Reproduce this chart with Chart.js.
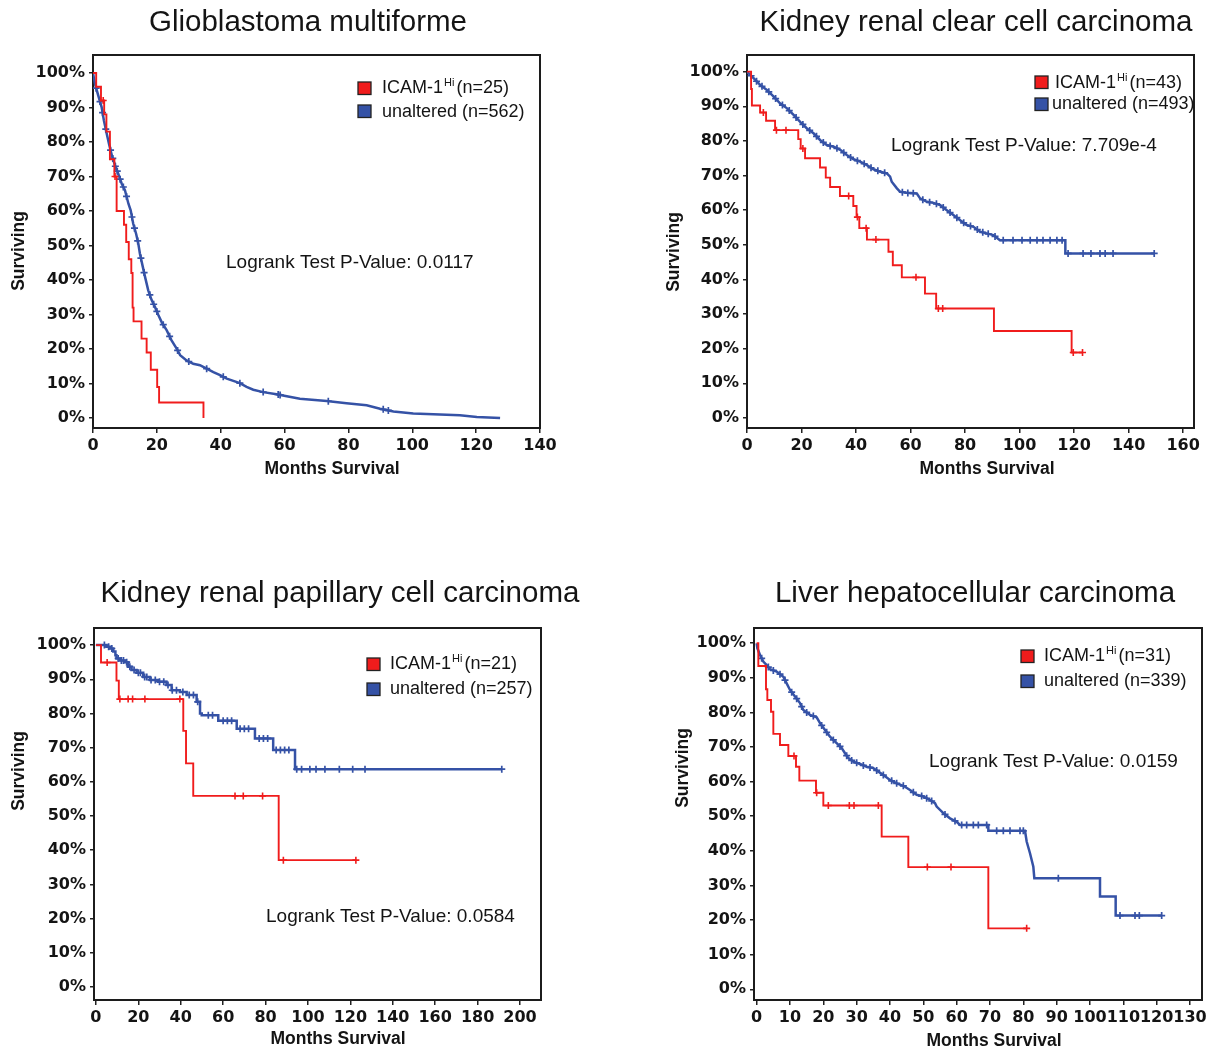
<!DOCTYPE html>
<html>
<head>
<meta charset="utf-8">
<title>ICAM-1 survival curves</title>
<script src="https://cdn.jsdelivr.net/npm/chart.js@4.4.1/dist/chart.umd.min.js"></script>
<style>
  body { margin: 0; background: #fff; }
  #wrap { position: relative; width: 1220px; height: 1051px; }
  #wrap canvas { position: absolute; }
</style>
</head>
<body>
<div id="wrap">
  <canvas id="c1" width="610" height="525" style="left:0;top:0"></canvas>
  <canvas id="c2" width="610" height="525" style="left:610px;top:0"></canvas>
  <canvas id="c3" width="610" height="526" style="left:0;top:525px"></canvas>
  <canvas id="c4" width="610" height="526" style="left:610px;top:525px"></canvas>
</div>
<script>
// shared labels
const yTicks = [0, 10, 20, 30, 40, 50, 60, 70, 80, 90, 100];
const seriesNames = ['ICAM-1', 'unaltered'];

// Glioblastoma multiforme
const gbmCounts = [25, 562];
const gbmXTicks = [0, 20, 40, 60, 80, 100, 120, 140];
const gbmRedT = [0, 1.0, 2.5, 3.5, 4.2, 5.3, 6.7, 7.4, 9.7, 10.4, 11.2, 12.0, 12.4, 12.7, 15.2, 16.8, 18.1, 20.1, 20.7, 34.6];
const gbmRedS = [100, 96, 92, 88, 83, 75, 70, 60, 56, 51, 46, 42, 32, 28, 23, 19, 14, 9, 4.5, 0];
const gbmRedCens = [3.2, 6.9];
const gbmBlueT = [0, 0.6, 1.7, 2.7, 3.4, 4.3, 5.0, 5.9, 6.9, 7.9, 9.0, 10.0, 11.1, 11.8, 12.6, 13.5, 14.2, 14.7, 15.6, 16.3, 17.3, 18.4, 19.4, 20.5, 21.5, 23.1, 24.6, 26.2, 27.3, 29.3, 31.4, 33.5, 35.6, 37.7, 39.8, 41.9, 46.0, 48.1, 50.2, 53.3, 57.5, 60.7, 64.8, 73.2, 79.4, 85.7, 89.9, 94.1, 100.3, 114.9, 120.2, 127.5];
const gbmBlueS = [100, 96.9, 93.3, 90.1, 86.3, 82.4, 79.5, 76.1, 73.2, 70.8, 67.9, 66.0, 62.1, 60.2, 56.3, 53.4, 50.5, 47.6, 43.8, 40.9, 37.0, 34.1, 32.2, 29.8, 27.8, 25.4, 22.5, 20.1, 18.2, 16.7, 15.7, 15.3, 14.3, 13.3, 12.4, 11.4, 10.1, 9.0, 8.2, 7.5, 6.9, 6.3, 5.6, 4.9, 4.3, 3.7, 2.7, 1.9, 1.3, 0.8, 0.3, 0];
const gbmBlueCens = [1.0, 2.2, 3.0, 4.0, 5.5, 6.2, 7.0, 7.6, 8.5, 9.5, 10.5, 12.2, 13.0, 14.0, 15.0, 16.0, 17.8, 19.0, 20.0, 22.0, 24.0, 26.5, 30.0, 35.6, 40.8, 46.0, 53.3, 58.0, 58.6, 73.7, 90.9, 92.5];

// Kidney renal clear cell carcinoma
const kircCounts = [43, 493];
const kircXTicks = [0, 20, 40, 60, 80, 100, 120, 140, 160];
const kircRedT = [0, 1.5, 1.8, 4.8, 7.0, 10.3, 18.8, 19.7, 21.3, 26.8, 28.9, 30.5, 34.1, 39.0, 40.2, 41.2, 44.0, 51.9, 53.5, 56.8, 65.3, 69.4, 90.6, 119.1, 123.1];
const kircRedS = [100, 95, 90.2, 88.2, 85.8, 83.1, 80.5, 77.8, 75, 72.3, 69.4, 66.7, 64.1, 61.2, 58, 54.8, 51.5, 48, 44.1, 40.6, 35.9, 31.6, 25.1, 18.9, 18.9];
const kircRedCens = [6.0, 10.8, 14.3, 20.5, 37.3, 40.5, 43.7, 47.3, 62.0, 70.2, 71.8, 119.7, 123.1];
const kircBlueT = [0, 2.4, 4.9, 7.3, 9.8, 12.2, 14.7, 17.1, 19.5, 22.0, 24.4, 26.9, 29.3, 31.8, 34.2, 36.6, 39.1, 41.5, 44.0, 46.4, 48.9, 51.3, 52.5, 53.1, 55.0, 56.2, 58.6, 62.3, 63.5, 66.0, 68.4, 70.8, 73.3, 75.7, 78.2, 80.6, 83.1, 85.5, 87.9, 90.4, 92.8, 116.8, 116.8, 149.5];
const kircBlueS = [100, 98.1, 96.1, 94.7, 92.8, 90.8, 89.4, 87.5, 85.5, 83.6, 82.2, 80.2, 78.8, 78.3, 77.4, 75.9, 74.7, 74.0, 73.0, 71.8, 71.1, 70.6, 69.7, 68.2, 66.3, 65.3, 65.0, 64.8, 63.4, 62.4, 62.1, 61.5, 60.0, 58.6, 57.1, 55.7, 55.2, 53.8, 53.3, 52.8, 51.3, 51.3, 47.5, 47.5];
const kircBlueCens = [1.5, 3.5, 5.5, 8, 10.5, 13, 15.5, 18, 20.5, 23, 25.5, 28, 30.5, 33, 35.5, 38, 40.5, 43, 45.5, 48, 50.5, 57, 59, 61, 64.5, 67, 69.5, 72, 74.5, 77, 79.5, 82, 84.5, 86.5, 88.5, 91, 94, 97.6, 100.9, 103.9, 106.4, 108.6, 111.2, 113.7, 115.6, 117.8, 123.3, 126.2, 129.5, 131.4, 134.3, 149.4];

// Kidney renal papillary cell carcinoma
const kirpCounts = [21, 257];
const kirpXTicks = [0, 20, 40, 60, 80, 100, 120, 140, 160, 180, 200];
const kirpRedT = [0, 2.4, 9.7, 10.8, 41.2, 42.5, 45.9, 86.2, 122.6];
const kirpRedS = [100, 94.9, 89.6, 84.2, 74.9, 65.4, 55.9, 37.1, 37.1];
const kirpRedCens = [5.3, 11.3, 15.2, 17.3, 23.1, 39.6, 65.6, 69.5, 78.6, 88.4, 122.6];
const kirpBlueT = [0, 5.0, 6.6, 8.2, 9.2, 9.7, 11.3, 13.7, 15.2, 16.8, 19.2, 22.3, 25.5, 29.4, 33.3, 35.7, 39.6, 42.8, 47.5, 49.1, 49.9, 57.7, 66.4, 75.0, 83.6, 93.9, 191.4];
const kirpBlueS = [100, 99.5, 99.0, 98.1, 97.0, 96.1, 95.5, 95.0, 93.7, 92.7, 91.9, 90.7, 89.8, 89.3, 88.3, 86.8, 86.3, 85.4, 83.4, 80.0, 79.5, 77.9, 75.5, 72.7, 69.3, 63.7, 63.7];
const kirpBlueCens = [4, 6, 7.5, 10.5, 12, 13, 14.5, 16, 18, 20, 21, 23, 24, 26, 28, 30, 32, 34, 36, 38, 41, 44, 46, 48, 53, 55, 60, 62, 64, 68, 70, 72, 77, 79, 81, 85, 87, 89, 91, 94.7, 97.0, 100.9, 103.8, 108.0, 114.8, 121.1, 126.9, 191.4];

// Liver hepatocellular carcinoma
const lihcCounts = [31, 339];
const lihcXTicks = [0, 10, 20, 30, 40, 50, 60, 70, 80, 90, 100, 110, 120, 130];
const lihcRedT = [0, 0.5, 2.8, 3.2, 4.3, 5.0, 7.0, 9.5, 11.8, 12.8, 17.8, 20.0, 37.5, 45.5, 69.5, 81.0];
const lihcRedS = [100, 93.4, 86.7, 83.6, 80.2, 73.8, 70.6, 67.4, 64.3, 60.3, 56.8, 53.1, 44.1, 35.3, 17.6, 17.6];
const lihcRedCens = [11.2, 18.0, 21.5, 27.8, 29.2, 36.5, 51.2, 58.3, 81.0];
const lihcBlueT = [0, 0.2, 1.0, 2.0, 3.0, 4.0, 6.0, 8.0, 9.0, 10.0, 11.5, 13.0, 14.0, 16.0, 18.0, 19.0, 20.5, 22.0, 24.0, 25.5, 26.5, 27.5, 29.0, 31.0, 33.0, 35.0, 36.5, 38.0, 40.0, 42.0, 44.0, 46.0, 48.0, 50.0, 52.0, 53.5, 54.0, 56.0, 58.0, 60.0, 61.0, 69.5, 69.5, 80.5, 81.0, 82.0, 83.0, 83.3, 103.0, 103.0, 107.7, 107.7, 121.5];
const lihcBlueS = [100, 98.6, 96.6, 94.7, 93.7, 92.5, 91.8, 90.3, 88.4, 86.5, 84.6, 82.7, 80.7, 79.3, 78.6, 76.9, 74.9, 73.0, 71.1, 69.7, 68.2, 66.8, 65.8, 65.1, 64.3, 63.9, 62.9, 61.9, 60.5, 59.5, 58.8, 57.6, 56.2, 55.7, 54.7, 53.8, 52.8, 50.9, 49.4, 48.4, 47.5, 47.5, 45.8, 45.8, 42.7, 39.3, 35.4, 32.1, 32.1, 26.8, 26.8, 21.3, 21.3];
const lihcBlueCens = [1.5, 3.5, 5, 7, 8.5, 10.5, 12, 13.5, 15, 17, 19.5, 21, 23, 25, 27, 28.5, 30, 32, 34, 36, 38, 40.5, 42, 44, 47, 49.5, 51, 52.5, 56.5, 59.5, 61.5, 63, 65, 66.5, 69, 72, 74, 76, 79, 80, 90.5, 109, 113.5, 114.8, 121.5];

const RED = '#f01c1c';
const BLUE = '#3552a6';
const TICK_FONT = { family: "'DejaVu Sans', Verdana, sans-serif", size: 16, weight: 'bold' };

// survival value at time t (step curve or drawn polyline)
function survAt(ts, ss, t, stepped) {
  let i = 0;
  while (i < ts.length - 1 && ts[i + 1] <= t) i++;
  if (stepped || i >= ts.length - 1) return ss[i];
  const t0 = ts[i], t1 = ts[i + 1];
  if (t1 === t0) return ss[i + 1];
  return ss[i] + (ss[i + 1] - ss[i]) * (t - t0) / (t1 - t0);
}

function pts(ts, ss) {
  return ts.map((t, i) => ({ x: t, y: ss[i] }));
}

function cens(times, ts, ss, stepped) {
  return times.map(t => ({ x: t, y: survAt(ts, ss, t, stepped) }));
}

// titles, frame, legend and p-value text
const decor = {
  id: 'decor',
  beforeDatasetsDraw(chart, args, o) {
    const ctx = chart.ctx;
    const a = chart.chartArea;
    ctx.save();
    ctx.strokeStyle = '#1c1c1c';
    ctx.lineWidth = 2;
    ctx.strokeRect(a.left, a.top, a.right - a.left, a.bottom - a.top);
    ctx.restore();
  },
  afterDraw(chart, args, o) {
    const ctx = chart.ctx;
    const [dx, dy] = o.offset;
    ctx.save();
    ctx.fillStyle = '#141414';
    ctx.textBaseline = 'middle';

    ctx.font = "29.5px 'Liberation Sans', Arial, sans-serif";
    ctx.textAlign = 'center';
    ctx.fillText(o.title, o.titleAt[0] - dx, o.titleAt[1] - dy);

    ctx.font = "bold 17.5px 'Liberation Sans', Arial, sans-serif";
    ctx.fillText('Months Survival', o.xTitleAt[0] - dx, o.xTitleAt[1] - dy);
    ctx.save();
    ctx.translate(o.yTitleAt[0] - dx, o.yTitleAt[1] - dy);
    ctx.rotate(-Math.PI / 2);
    ctx.fillText('Surviving', 0, 0);
    ctx.restore();

    // legend
    ctx.textAlign = 'left';
    const colors = [RED, BLUE];
    o.legend.squares.forEach((sq, i) => {
      ctx.fillStyle = colors[i];
      ctx.fillRect(sq[0] - dx, sq[1] - dy, 13, 12.5);
      ctx.strokeStyle = '#222';
      ctx.lineWidth = 1.3;
      ctx.strokeRect(sq[0] - dx, sq[1] - dy, 13, 12.5);
    });
    ctx.fillStyle = '#141414';
    ctx.font = "18px 'Liberation Sans', Arial, sans-serif";
    let x = o.legend.textX[0] - dx;
    const y0 = o.legend.textY[0] - dy;
    ctx.fillText(seriesNames[0], x, y0);
    x += ctx.measureText(seriesNames[0]).width + 1;
    ctx.font = "11px 'Liberation Sans', Arial, sans-serif";
    ctx.fillText('Hi', x, y0 - 5);
    x += ctx.measureText('Hi').width + 2;
    ctx.font = "18px 'Liberation Sans', Arial, sans-serif";
    ctx.fillText('(n=' + o.legend.counts[0] + ')', x, y0);
    ctx.fillText(seriesNames[1] + ' (n=' + o.legend.counts[1] + ')',
      o.legend.textX[1] - dx, o.legend.textY[1] - dy);

    ctx.font = "19px 'Liberation Sans', Arial, sans-serif";
    ctx.fillText('Logrank Test P-Value: ' + o.pValue, o.pAt[0] - dx, o.pAt[1] - dy);
    ctx.restore();
  }
};

function makeChart(id, p) {
  // KM steps: level holds until the next time point, then drops
  const blueStep = p.blueStepped ? 'before' : false;
  return new Chart(document.getElementById(id), {
    type: 'scatter',
    data: {
      datasets: [
        { type: 'line', data: pts(p.blueT, p.blueS), borderColor: BLUE, borderWidth: 2.5,
          pointRadius: 0, stepped: blueStep, tension: 0, fill: false, order: 4 },
        { type: 'scatter', data: cens(p.blueCens, p.blueT, p.blueS, p.blueStepped),
          pointStyle: 'cross', pointRadius: 3.5, borderColor: BLUE, borderWidth: 1.7, order: 3 },
        { type: 'line', data: pts(p.redT, p.redS), borderColor: RED, borderWidth: 1.9,
          pointRadius: 0, stepped: 'before', tension: 0, fill: false, order: 2 },
        { type: 'scatter', data: cens(p.redCens, p.redT, p.redS, true),
          pointStyle: 'cross', pointRadius: 3.5, borderColor: RED, borderWidth: 1.6, order: 1 }
      ]
    },
    options: {
      responsive: false,
      animation: false,
      layout: { padding: p.padding },
      plugins: {
        legend: { display: false },
        tooltip: { enabled: false },
        decor: p.decor
      },
      scales: {
        x: {
          type: 'linear', min: p.xMin, max: p.xMax,
          afterBuildTicks: s => { s.ticks = p.xTicks.map(v => ({ value: v })); },
          afterFit: s => { s.height = 30; },
          ticks: { autoSkip: false, maxRotation: 0, minRotation: 0, padding: 3,
                   font: TICK_FONT, color: '#141414', callback: v => String(v) },
          grid: { drawOnChartArea: false, tickLength: 5, color: '#222', lineWidth: 1.5 },
          border: { display: false }
        },
        y: {
          type: 'linear', min: p.yMin, max: p.yMax,
          afterBuildTicks: s => { s.ticks = yTicks.map(v => ({ value: v })); },
          afterFit: s => { s.width = 60; },
          ticks: { padding: 4, font: TICK_FONT, color: '#141414', callback: v => v + '%' },
          grid: { drawOnChartArea: false, tickLength: 4, color: '#222', lineWidth: 1.5 },
          border: { display: false }
        }
      }
    },
    plugins: [decor]
  });
}

makeChart('c1', {
  redT: gbmRedT, redS: gbmRedS, redCens: gbmRedCens,
  blueT: gbmBlueT, blueS: gbmBlueS, blueCens: gbmBlueCens, blueStepped: false,
  xTicks: gbmXTicks, xMin: 0, xMax: 140, yMin: -2.9, yMax: 105.2,
  padding: { left: 33, top: 55, right: 70, bottom: 67 },
  decor: {
    offset: [0, 0], title: 'Glioblastoma multiforme', titleAt: [308, 23],
    xTitleAt: [332, 469], yTitleAt: [19, 251],
    legend: { counts: gbmCounts, squares: [[358, 82], [358, 105]], textX: [382, 382], textY: [88, 112] },
    pValue: '0.0117', pAt: [226, 263]
  }
});

makeChart('c2', {
  redT: kircRedT, redS: kircRedS, redCens: kircRedCens,
  blueT: kircBlueT, blueS: kircBlueS, blueCens: kircBlueCens, blueStepped: false,
  xTicks: kircXTicks, xMin: 0, xMax: 164, yMin: -2.9, yMax: 104.8,
  padding: { left: 77, top: 55, right: 26, bottom: 67 },
  decor: {
    offset: [610, 0], title: 'Kidney renal clear cell carcinoma', titleAt: [976, 23],
    xTitleAt: [987, 469], yTitleAt: [674, 252],
    legend: { counts: kircCounts, squares: [[1035, 76], [1035, 98]], textX: [1055, 1052], textY: [83, 104] },
    pValue: '7.709e-4', pAt: [891, 146]
  }
});

makeChart('c3', {
  redT: kirpRedT, redS: kirpRedS, redCens: kirpRedCens,
  blueT: kirpBlueT, blueS: kirpBlueS, blueCens: kirpBlueCens, blueStepped: true,
  xTicks: kirpXTicks, xMin: -0.9, xMax: 209.9, yMin: -3.8, yMax: 105,
  padding: { left: 34, top: 103, right: 69, bottom: 21 },
  decor: {
    offset: [0, 525], title: 'Kidney renal papillary cell carcinoma', titleAt: [340, 594],
    xTitleAt: [338, 1039], yTitleAt: [19, 771],
    legend: { counts: kirpCounts, squares: [[367, 658], [367, 683]], textX: [390, 390], textY: [664, 689] },
    pValue: '0.0584', pAt: [266, 917]
  }
});

makeChart('c4', {
  redT: lihcRedT, redS: lihcRedS, redCens: lihcRedCens,
  blueT: lihcBlueT, blueS: lihcBlueS, blueCens: lihcBlueCens, blueStepped: false,
  xTicks: lihcXTicks, xMin: -0.8, xMax: 133.6, yMin: -3.1, yMax: 104.4,
  padding: { left: 84, top: 103, right: 18, bottom: 21 },
  decor: {
    offset: [610, 525], title: 'Liver hepatocellular carcinoma', titleAt: [975, 594],
    xTitleAt: [994, 1041], yTitleAt: [683, 768],
    legend: { counts: lihcCounts, squares: [[1021, 650], [1021, 675]], textX: [1044, 1044], textY: [656, 681] },
    pValue: '0.0159', pAt: [929, 762]
  }
});
</script>
</body>
</html>
